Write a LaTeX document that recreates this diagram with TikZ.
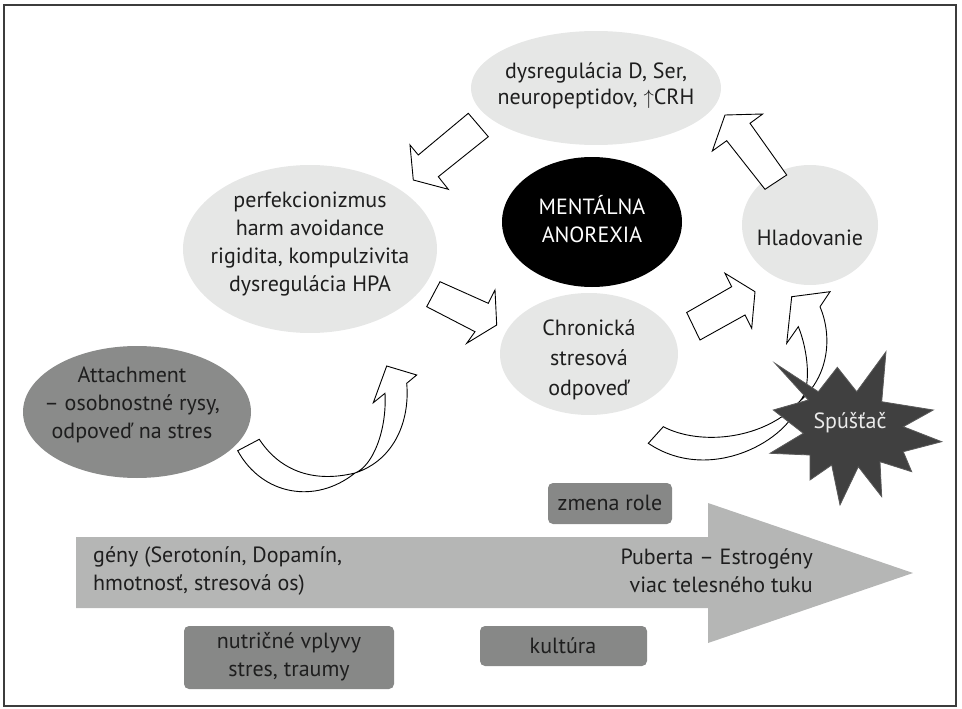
\documentclass[tikz,border=0pt]{standalone}
\usepackage{fontspec}
\setmainfont{PT Sans}
\usetikzlibrary{shapes.geometric}
\definecolor{bubble}{HTML}{E6E7E6}
\definecolor{darkbubble}{HTML}{8A8B8A}
\definecolor{boxgray}{HTML}{878887}
\definecolor{bandgray}{HTML}{B5B6B5}
\definecolor{burst}{HTML}{404040}
\definecolor{burstline}{HTML}{5A5A5A}
\definecolor{ink}{HTML}{1E1E1E}
\definecolor{framegray}{HTML}{3C3C3C}

\begin{document}
\begin{tikzpicture}[x=1pt,y=-1pt,
  txt/.style={font=\fontsize{22}{28}\selectfont, text=ink, align=center, inner sep=0pt},
  bubble/.style={ellipse, fill=bubble, inner sep=0pt},
  tag/.style={rounded corners=5pt, fill=boxgray},
  blockarrow/.style={draw=black, fill=white, line width=0.9pt, line join=miter},
]
\useasboundingbox (0,0) rectangle (962,709);
\draw[framegray, line width=2pt] (4,5) rectangle (956,706);

% broad grey band arrow along the bottom
\fill[bandgray] (76,537) -- (708,537) -- (708,503) -- (913,573) -- (708,643)
  -- (708,608) -- (76,608) -- cycle;
\node[txt, anchor=west, align=left] (genes) at (93,571)
  {gény (Serotonín, Dopamín,\\hmotnosť, stresová os)};
\node[txt, anchor=east, align=right] (puberty) at (813,571)
  {Puberta – Estrogény\\viac telesného tuku};

% grey labels around the band
\fill[tag] (548,483) rectangle (672,524);
\node[txt] (role) at (610,503) {zmena role};
\fill[tag] (184,626) rectangle (394,689);
\node[txt] (nutri) at (289,657) {nutričné vplyvy\\stres, traumy};
\fill[tag] (480,626) rectangle (647,666);
\node[txt] (culture) at (563,646) {kultúra};

% ellipses
\node[bubble, minimum width=250pt, minimum height=114pt] (dysreg) at (596,88) {};
\node[txt, font=\fontsize{22}{26}\selectfont] (dysregT) at (596,86)
  {dysregulácia D, Ser,\\neuropeptidov, $\uparrow$CRH};
\node[bubble, minimum width=254pt, minimum height=168pt] (traits) at (310,249) {};
\node[txt] (traitsT) at (310,244)
  {perfekcionizmus\\harm avoidance\\rigidita, kompulzivita\\dysregulácia HPA};
\node[ellipse, fill=black, inner sep=0pt, minimum width=180pt, minimum height=130pt] (an) at (592,222) {};
\node[txt, text=white] (anT) at (592,219) {MENTÁLNA\\ANOREXIA};
\node[bubble, minimum width=136pt, minimum height=120pt] (starv) at (810,225) {};
\node[txt] (starvT) at (810,238) {Hladovanie};
\node[bubble, minimum width=178pt, minimum height=122pt] (chron) at (589,354) {};
\node[txt, font=\fontsize{22}{30}\selectfont] (chronT) at (589,360) {Chronická\\stresová\\odpoveď};
\node[ellipse, fill=darkbubble, inner sep=0pt, minimum width=228pt, minimum height=132pt] (attach) at (137,412) {};
\node[txt] (attachT) at (132,405) {Attachment\\– osobnostné rysy,\\odpoveď na stres};

% straight block arrows of the cycle
\draw[blockarrow] (468.3,113.3) -- (418.3,155) -- (410,145) -- (413.3,180)
  -- (448.3,189.3) -- (438.3,176.7) -- (488.3,136.7) -- cycle;
\draw[blockarrow] (440,281.7) -- (488.3,303.3) -- (495,290) -- (496.7,325)
  -- (466.7,343.3) -- (475,331.7) -- (426.7,306.7) -- cycle;
\draw[blockarrow] (686.7,312.5) -- (731.7,286.7) -- (725,273.3) -- (755,291.7)
  -- (751.7,328.3) -- (745,315) -- (700,340) -- cycle;
\draw[blockarrow] (765,189.3) -- (726.7,140.7) -- (712.3,151) -- (725,115)
  -- (762.7,114) -- (750,123.3) -- (786.7,175) -- cycle;

% curved arrow rising from the attachment ellipse
\draw[blockarrow] (259.3,439.3) .. controls (278,468) and (310,484) .. (355,473)
  .. controls (373,466) and (387,430) .. (385,393.3)
  -- (373.3,402.7) -- (386.7,366) -- (416.7,375) -- (406.7,383.3)
  .. controls (410,420) and (395,460) .. (355,473)
  .. controls (315,505) and (262,495) .. (237.7,450.7) -- cycle;

% curved arrow from behind the trigger up to starvation
\draw[blockarrow] (663.3,426.7) .. controls (700,446) and (765,440) .. (800,401)
  .. controls (812,388) and (808,350) .. (798.3,326.7)
  -- (786.7,343.3) -- (791.7,296.7) -- (830,291.7) -- (820,306.7)
  .. controls (832,335) and (830,375) .. (800,401)
  .. controls (790,440) and (710,485) .. (648.3,443.3) -- cycle;

% trigger burst
\filldraw[fill=burst, draw=burstline, line width=0.8pt, line join=miter]
  (775,363.3) -- (818.3,391.7) -- (837.3,367.3) -- (856.7,391.7) -- (886,351.7)
  -- (881.7,401.7) -- (933.3,410) -- (903.3,426.7) -- (941.7,441.7)
  -- (903.3,451.7) -- (911.7,471.7) -- (880,461.7) -- (881.7,496.7)
  -- (858.3,466.7) -- (840,505) -- (831.7,465) -- (810,480) -- (810,455)
  -- (770,453.3) -- (803.3,433.3) -- (773.3,410) -- (808.3,400) -- cycle;
\node[txt, text=white!92!black] (trigger) at (850,423) {Spúšťač};
\end{tikzpicture}
\end{document}
